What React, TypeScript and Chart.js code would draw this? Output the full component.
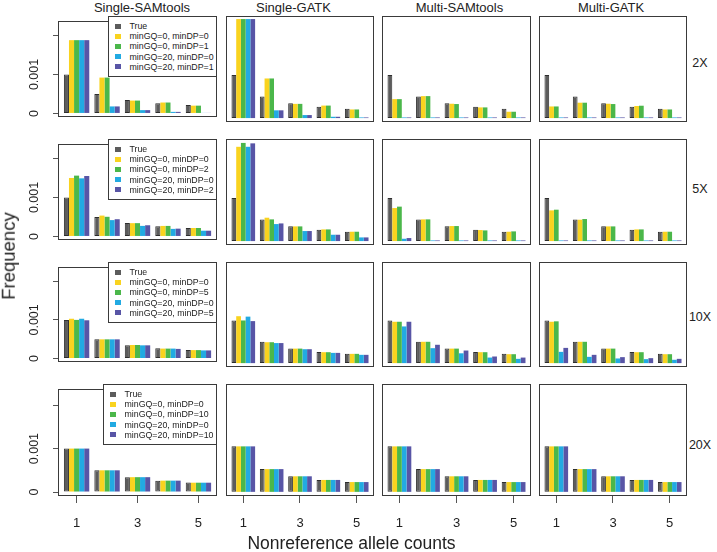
import React, { useEffect, useRef } from "react";
import { Chart, registerables } from "chart.js";

Chart.register(...registerables);

// ---------------- data ----------------
const METHODS = ["Single-SAMtools", "Single-GATK", "Multi-SAMtools", "Multi-GATK"];
const DEPTHS = ["2X", "5X", "10X", "20X"];
const MIN_DP = ["1", "2", "5", "10"];
const ALLELE_COUNTS = [1, 2, 3, 4, 5];
const X_TICKS = [1, 3, 5];
const X_TICK_LABELS = ["1", "3", "5"];
const Y_TICKS = [0, 0.001, 0.002];
const Y_TICK_LABELS = ["0", "0.001", ""];
const X_TITLE = "Nonreference allele counts";
const Y_TITLE = "Frequency";

const TRUE_FREQ = [1.0e-3, 0.5e-3, 0.342e-3, 0.262e-3, 0.218e-3];

// each panel: [minGQ=0,minDP=0], [minGQ=0,minDP=d], [minGQ=20,minDP=0], [minGQ=20,minDP=d]
const SINGLE_SAMTOOLS_2X = [
  [1.88e-3, 0.92e-3, 0.33e-3, 0.28e-3, 0.2e-3],
  [1.88e-3, 0.92e-3, 0.33e-3, 0.28e-3, 0.2e-3],
  [1.88e-3, 0.18e-3, 0.085e-3, 0.04e-3, 0.015e-3],
  [1.88e-3, 0.18e-3, 0.085e-3, 0.04e-3, 0.015e-3],
];
const SINGLE_GATK_2X = [
  [2.3e-3, 0.92e-3, 0.33e-3, 0.29e-3, 0.2e-3],
  [2.3e-3, 0.92e-3, 0.33e-3, 0.29e-3, 0.2e-3],
  [2.3e-3, 0.18e-3, 0.07e-3, 0.03e-3, 0.015e-3],
  [2.3e-3, 0.18e-3, 0.07e-3, 0.03e-3, 0.015e-3],
];
const MULTI_SAMTOOLS_2X = [
  [0.44e-3, 0.51e-3, 0.333e-3, 0.248e-3, 0.147e-3],
  [0.44e-3, 0.51e-3, 0.326e-3, 0.248e-3, 0.147e-3],
  [0.015e-3, 0.015e-3, 0.015e-3, 0.015e-3, 0.015e-3],
  [0.015e-3, 0.015e-3, 0.015e-3, 0.015e-3, 0.015e-3],
];
const MULTI_GATK_2X = [
  [0.27e-3, 0.357e-3, 0.333e-3, 0.28e-3, 0.2e-3],
  [0.27e-3, 0.357e-3, 0.326e-3, 0.287e-3, 0.2e-3],
  [0.015e-3, 0.015e-3, 0.015e-3, 0.015e-3, 0.015e-3],
  [0.015e-3, 0.015e-3, 0.015e-3, 0.015e-3, 0.015e-3],
];

const SINGLE_SAMTOOLS_5X = [
  [1.5e-3, 0.535e-3, 0.341e-3, 0.27e-3, 0.217e-3],
  [1.56e-3, 0.504e-3, 0.341e-3, 0.27e-3, 0.217e-3],
  [1.49e-3, 0.419e-3, 0.271e-3, 0.194e-3, 0.147e-3],
  [1.55e-3, 0.442e-3, 0.287e-3, 0.2e-3, 0.147e-3],
];
const SINGLE_GATK_5X = [
  [2.19e-3, 0.543e-3, 0.341e-3, 0.271e-3, 0.217e-3],
  [2.28e-3, 0.504e-3, 0.341e-3, 0.271e-3, 0.217e-3],
  [2.19e-3, 0.395e-3, 0.233e-3, 0.147e-3, 0.085e-3],
  [2.27e-3, 0.41e-3, 0.233e-3, 0.147e-3, 0.085e-3],
];
const MULTI_SAMTOOLS_5X = [
  [0.767e-3, 0.504e-3, 0.349e-3, 0.256e-3, 0.217e-3],
  [0.8e-3, 0.504e-3, 0.349e-3, 0.248e-3, 0.225e-3],
  [0.054e-3, 0.015e-3, 0.015e-3, 0.015e-3, 0.015e-3],
  [0.07e-3, 0.015e-3, 0.015e-3, 0.015e-3, 0.015e-3],
];
const MULTI_GATK_5X = [
  [0.713e-3, 0.496e-3, 0.341e-3, 0.271e-3, 0.217e-3],
  [0.729e-3, 0.512e-3, 0.341e-3, 0.271e-3, 0.217e-3],
  [0.015e-3, 0.015e-3, 0.015e-3, 0.015e-3, 0.015e-3],
  [0.015e-3, 0.015e-3, 0.015e-3, 0.015e-3, 0.015e-3],
];

const SINGLE_SAMTOOLS_10X = [
  [1.03e-3, 0.496e-3, 0.349e-3, 0.256e-3, 0.217e-3],
  [1.0e-3, 0.496e-3, 0.349e-3, 0.256e-3, 0.217e-3],
  [1.03e-3, 0.496e-3, 0.341e-3, 0.256e-3, 0.209e-3],
  [0.99e-3, 0.496e-3, 0.341e-3, 0.248e-3, 0.209e-3],
];
const SINGLE_GATK_10X = [
  [1.1e-3, 0.49e-3, 0.34e-3, 0.256e-3, 0.217e-3],
  [1.0e-3, 0.49e-3, 0.34e-3, 0.256e-3, 0.217e-3],
  [1.09e-3, 0.47e-3, 0.326e-3, 0.24e-3, 0.194e-3],
  [0.985e-3, 0.47e-3, 0.326e-3, 0.24e-3, 0.194e-3],
];
const MULTI_SAMTOOLS_10X = [
  [0.97e-3, 0.5e-3, 0.34e-3, 0.256e-3, 0.209e-3],
  [0.97e-3, 0.5e-3, 0.34e-3, 0.256e-3, 0.209e-3],
  [0.86e-3, 0.35e-3, 0.23e-3, 0.13e-3, 0.1e-3],
  [0.97e-3, 0.43e-3, 0.295e-3, 0.155e-3, 0.13e-3],
];
const MULTI_GATK_10X = [
  [0.97e-3, 0.5e-3, 0.34e-3, 0.256e-3, 0.209e-3],
  [0.98e-3, 0.5e-3, 0.34e-3, 0.256e-3, 0.209e-3],
  [0.264e-3, 0.147e-3, 0.109e-3, 0.093e-3, 0.078e-3],
  [0.357e-3, 0.194e-3, 0.14e-3, 0.116e-3, 0.1e-3],
];

const SINGLE_SAMTOOLS_20X = [
  [1.0e-3, 0.5e-3, 0.342e-3, 0.262e-3, 0.215e-3],
  [1.0e-3, 0.5e-3, 0.342e-3, 0.262e-3, 0.215e-3],
  [1.0e-3, 0.5e-3, 0.342e-3, 0.262e-3, 0.215e-3],
  [1.0e-3, 0.5e-3, 0.342e-3, 0.262e-3, 0.215e-3],
];
const SINGLE_GATK_20X = [
  [1.0e-3, 0.5e-3, 0.342e-3, 0.262e-3, 0.215e-3],
  [1.0e-3, 0.5e-3, 0.342e-3, 0.262e-3, 0.215e-3],
  [1.0e-3, 0.5e-3, 0.342e-3, 0.262e-3, 0.215e-3],
  [1.0e-3, 0.5e-3, 0.342e-3, 0.262e-3, 0.215e-3],
];
const MULTI_SAMTOOLS_20X = [
  [1.0e-3, 0.5e-3, 0.342e-3, 0.262e-3, 0.215e-3],
  [1.0e-3, 0.5e-3, 0.342e-3, 0.262e-3, 0.215e-3],
  [1.0e-3, 0.5e-3, 0.342e-3, 0.262e-3, 0.215e-3],
  [1.0e-3, 0.5e-3, 0.342e-3, 0.262e-3, 0.215e-3],
];
const MULTI_GATK_20X = [
  [1.0e-3, 0.5e-3, 0.342e-3, 0.262e-3, 0.215e-3],
  [1.0e-3, 0.5e-3, 0.342e-3, 0.262e-3, 0.215e-3],
  [1.0e-3, 0.5e-3, 0.342e-3, 0.262e-3, 0.215e-3],
  [1.0e-3, 0.5e-3, 0.342e-3, 0.262e-3, 0.215e-3],
];

const PANELS = [
  [SINGLE_SAMTOOLS_2X, SINGLE_GATK_2X, MULTI_SAMTOOLS_2X, MULTI_GATK_2X],
  [SINGLE_SAMTOOLS_5X, SINGLE_GATK_5X, MULTI_SAMTOOLS_5X, MULTI_GATK_5X],
  [SINGLE_SAMTOOLS_10X, SINGLE_GATK_10X, MULTI_SAMTOOLS_10X, MULTI_GATK_10X],
  [SINGLE_SAMTOOLS_20X, SINGLE_GATK_20X, MULTI_SAMTOOLS_20X, MULTI_GATK_20X],
];

// ---------------- style / layout ----------------
const FONT = '"Liberation Sans", Arial, Helvetica, sans-serif';
const TEXT_COLOR = "#222";
const SERIES_COLORS = ["#5c5c5c", "#f9d31f", "#4bb74a", "#22aae2", "#5855a6"];
const SERIES_BORDERS = ["#2e2e2e", "#f9d31f", "#4bb74a", "#22aae2", "#5855a6"];
const SERIES_BORDER_W = [1, 0, 0, 0, 0];

const COL_L = [58, 226, 382, 539];
const COL_R = [217, 374, 531, 687];
const ROW_T = [16, 139, 262, 384];
const ROW_B = [122, 245, 367, 496];
const TITLE_X = [142, 293.5, 459.5, 611];
const ROW_LABEL_Y = [63, 189, 317, 445];
const LEGEND_LEFT = [108, 108, 108, 103];
const Y_MIN = -0.0000912;
const Y_MAX = 0.0023712;
const X_MIN = 0.39;
const X_MAX = 5.61;
const X_AXIS_H = 40;
const Y_AXIS_W = 58;

const boxPlugin = {
  id: "panelBox",
  afterDraw(chart: any) {
    const { ctx, chartArea: a } = chart;
    ctx.save();
    ctx.strokeStyle = "#3a3a3a";
    ctx.lineWidth = 1;
    const l = Math.round(a.left);
    const t = Math.round(a.top);
    const r = Math.round(a.right);
    const b = Math.round(a.bottom);
    ctx.strokeRect(l + 0.5, t + 0.5, r - l - 1, b - t - 1);
    ctx.restore();
  },
};

function Panel({ r, c }: { r: number; c: number }) {
  const ref = useRef<HTMLCanvasElement>(null);
  const isLeft = c === 0;
  const isBottom = r === 3;
  const left = isLeft ? 0 : COL_L[c] - 1;
  const top = ROW_T[r] - 1;
  const width = COL_R[c] + 1 - left;
  const height = ROW_B[r] - top + (isBottom ? X_AXIS_H : 1);

  useEffect(() => {
    const series = [TRUE_FREQ, ...PANELS[r][c]];
    const labels = [
      "True",
      "minGQ=0, minDP=0",
      `minGQ=0, minDP=${MIN_DP[r]}`,
      "minGQ=20, minDP=0",
      `minGQ=20, minDP=${MIN_DP[r]}`,
    ];
    const chart = new Chart(ref.current as HTMLCanvasElement, {
      type: "bar",
      data: {
        datasets: series.map((vals, i) => ({
          label: labels[i],
          data: vals.map((v, k) => ({ x: ALLELE_COUNTS[k], y: v })),
          backgroundColor: SERIES_COLORS[i],
          borderColor: SERIES_BORDERS[i],
          borderWidth: SERIES_BORDER_W[i],
          borderSkipped: false,
          categoryPercentage: 5 / 6,
          barPercentage: 1,
        })),
      },
      plugins: [boxPlugin],
      options: {
        animation: false,
        responsive: false,
        events: [],
        layout: {
          padding: { left: isLeft ? 0 : 1, right: 1, top: 1, bottom: isBottom ? 0 : 1 },
        },
        plugins: {
          legend: { display: false },
          tooltip: { enabled: false },
        },
        scales: {
          x: {
            type: "linear",
            min: X_MIN,
            max: X_MAX,
            offset: false,
            display: isBottom,
            afterBuildTicks: (s: any) => {
              s.ticks = X_TICKS.map((v) => ({ value: v }));
            },
            afterFit: isBottom
              ? (s: any) => {
                  s.height = X_AXIS_H;
                }
              : undefined,
            grid: {
              offset: false,
              drawOnChartArea: false,
              drawTicks: true,
              tickLength: 7,
              color: "#555",
              lineWidth: 1,
            },
            border: { display: false },
            ticks: {
              autoSkip: false,
              maxRotation: 0,
              minRotation: 0,
              padding: 13,
              color: TEXT_COLOR,
              font: { family: FONT, size: 13 },
              callback: (_v: any, i: number) => X_TICK_LABELS[i],
            },
          },
          y: {
            type: "linear",
            min: Y_MIN,
            max: Y_MAX,
            offset: false,
            display: isLeft,
            afterBuildTicks: (s: any) => {
              s.ticks = Y_TICKS.map((v) => ({ value: v }));
            },
            afterFit: isLeft
              ? (s: any) => {
                  s.width = Y_AXIS_W;
                }
              : undefined,
            grid: {
              drawOnChartArea: false,
              drawTicks: true,
              tickLength: 9,
              tickBorderDash: [5, 4],
              tickBorderDashOffset: 5,
              color: "#555",
              lineWidth: 1,
            },
            border: { display: false },
            ticks: {
              autoSkip: false,
              minRotation: 90,
              maxRotation: 90,
              crossAlign: "center",
              padding: -1.5,
              color: TEXT_COLOR,
              font: { family: FONT, size: 12.5 },
              callback: (_v: any, i: number) => Y_TICK_LABELS[i],
            },
          },
        },
      } as any,
    });
    return () => chart.destroy();
  }, [r, c]);

  return (
    <div style={{ position: "absolute", left, top, width, height }}>
      <canvas ref={ref} width={width} height={height} style={{ display: "block", width, height }} />
    </div>
  );
}

function Legend({ r }: { r: number }) {
  const left = LEGEND_LEFT[r];
  const labels = [
    "True",
    "minGQ=0, minDP=0",
    `minGQ=0, minDP=${MIN_DP[r]}`,
    "minGQ=20, minDP=0",
    `minGQ=20, minDP=${MIN_DP[r]}`,
  ];
  return (
    <div
      style={{
        position: "absolute",
        left,
        top: ROW_T[r],
        width: COL_R[0] - left,
        height: 61,
        boxSizing: "border-box",
        border: "1px solid #3a3a3a",
        background: "#fff",
      }}
    >
      {labels.map((t, i) => {
        const cy = 10.2 + i * 10.1 - 1;
        return (
          <React.Fragment key={i}>
            <div
              style={{
                position: "absolute",
                left: 6,
                top: cy - 2.5,
                width: 5.5,
                height: 5,
                background: SERIES_COLORS[i],
              }}
            />
            <div
              style={{
                position: "absolute",
                left: 20.5,
                top: cy,
                transform: "translateY(-50%)",
                fontFamily: FONT,
                fontSize: 8.8,
                lineHeight: 1,
                whiteSpace: "nowrap",
                color: TEXT_COLOR,
              }}
            >
              {t}
            </div>
          </React.Fragment>
        );
      })}
    </div>
  );
}

function Label({ x, y, size, text, rotate }: { x: number; y: number; size: number; text: string; rotate?: boolean }) {
  return (
    <div
      style={{
        position: "absolute",
        left: x,
        top: y,
        transform: `translate(-50%, -50%)${rotate ? " rotate(-90deg)" : ""}`,
        fontFamily: FONT,
        fontSize: size,
        lineHeight: 1,
        whiteSpace: "nowrap",
        color: TEXT_COLOR,
      }}
    >
      {text}
    </div>
  );
}

export default function App() {
  return (
    <div style={{ position: "absolute", left: 0, top: 0, width: 717, height: 552, background: "#fff", overflow: "hidden" }}>
      {DEPTHS.map((_, r) => METHODS.map((__, c) => <Panel key={`${r}-${c}`} r={r} c={c} />))}
      {DEPTHS.map((_, r) => (
        <Legend key={`lg-${r}`} r={r} />
      ))}
      {METHODS.map((m, c) => (
        <Label key={m} x={TITLE_X[c]} y={6.5} size={13} text={m} />
      ))}
      {DEPTHS.map((d, r) => (
        <Label key={d} x={700} y={ROW_LABEL_Y[r]} size={12.5} text={d} />
      ))}
      <Label x={351.5} y={544} size={17.5} text={X_TITLE} />
      <Label x={9} y={256} size={18.5} text={Y_TITLE} rotate />
    </div>
  );
}
